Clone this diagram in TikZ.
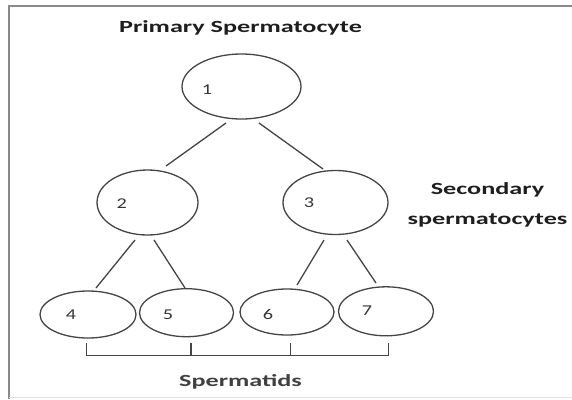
\documentclass[tikz,border=0pt]{standalone}
\usepackage{fontspec}
\setmainfont{Carlito}
\usetikzlibrary{shapes.geometric,calc}
\definecolor{lineg}{HTML}{454545}
\definecolor{textc}{HTML}{1E1E1E}
\definecolor{framec}{HTML}{8A8A8A}
\newcommand{\widetxt}[1]{\scalebox{1.54}[1]{#1}}
\newcommand{\widenum}[1]{\scalebox{1.35}[1]{#1}}
\begin{document}
\begin{tikzpicture}[x=1pt,y=-1pt,
  cell/.style={draw=lineg, line width=1.3pt, ellipse, inner sep=0pt, outer sep=0pt},
  conn/.style={draw=lineg, line width=1.3pt},
  head/.style={font=\fontsize{17}{20}\selectfont\bfseries, text=textc, inner sep=0pt, anchor=base},
  sub/.style={font=\fontsize{17}{20}\selectfont\bfseries, text=textc!85, inner sep=0pt, anchor=base},
  num/.style={font=\fontsize{15}{18}\selectfont, text=textc!90, inner sep=0pt}]
\useasboundingbox (0,0) rectangle (572,399);
\fill[white] (0,0) rectangle (572,399);
% frame
\draw[framec, line width=1.8pt] (9,399) -- (9,6) -- (572,6);
\draw[gray!25, line width=1pt] (9,397.5) -- (572,397.5);

% cells
\node[cell, minimum width=119pt, minimum height=65pt] (e1) at (241.5,86.5) {};
\node[cell, minimum width=101pt, minimum height=65pt] (e2) at (147.5,202.5) {};
\node[cell, minimum width=105pt, minimum height=64pt] (e3) at (335.5,202.5) {};
\node[cell, minimum width=96pt, minimum height=47pt] (e4) at (88,314.5) {};
\node[cell, minimum width=94pt, minimum height=48pt] (e5) at (186.5,312.7) {};
\node[cell, minimum width=94pt, minimum height=46pt] (e6) at (287,312) {};
\node[cell, minimum width=95pt, minimum height=49pt] (e7) at (386,311.3) {};

% numbers
\node[num] (n1) at (207,90) {\widenum{1}};
\node[num] (n2) at (121.7,204) {\widenum{2}};
\node[num] (n3) at (309,203) {\widenum{3}};
\node[num] (n4) at (71,315) {\widenum{4}};
\node[num] (n5) at (168,315) {\widenum{5}};
\node[num] (n6) at (268,314) {\widenum{6}};
\node[num] (n7) at (367,311) {\widenum{7}};

% connectors
\draw[conn] ($(e1)+(-15.5,36.5)$) -- ($(e2)+(18.5,-36.5)$);
\draw[conn] ($(e1)+(17.5,36.5)$) -- ($(e3)+(-12.5,-33.5)$);
\draw[conn] ($(e2)+(-12.5,37.5)$) -- ($(e4)+(8,-26.5)$);
\draw[conn] ($(e2)+(6.5,37.5)$) -- ($(e5)+(-1.5,-24.7)$);
\draw[conn] ($(e3)+(-11.5,37.5)$) -- ($(e6)+(10,-27)$);
\draw[conn] ($(e3)+(11.5,37.5)$) -- ($(e7)+(-10,-28.3)$);

% bracket
\coordinate (bl) at (86.7,355.3);
\coordinate (br) at (388.3,355.3);
\draw[conn] ($(e4.south)+(-1.3,5.3)$) -- (bl) -- (br) -- ($(e7.south)+(2.3,7.3)$);
\draw[conn] ($(e5.south)+(4.5,6.6)$) -- ($(e5.south)+(4.5,18.6)$);
\draw[conn] ($(e6.south)+(3.3,8.3)$) -- ($(e6.south)+(3.3,20.3)$);

% labels
\node[head] (title) at (240.5,32.5) {\widetxt{Primary Spermatocyte}};
\node[head] (sec1) at (487.5,194) {\widetxt{Secondary}};
\node[head] (sec2) at (487.5,224) {\widetxt{spermatocytes}};
\node[sub] (spt) at (240.5,386) {\widetxt{Spermatids}};
\end{tikzpicture}
\end{document}
